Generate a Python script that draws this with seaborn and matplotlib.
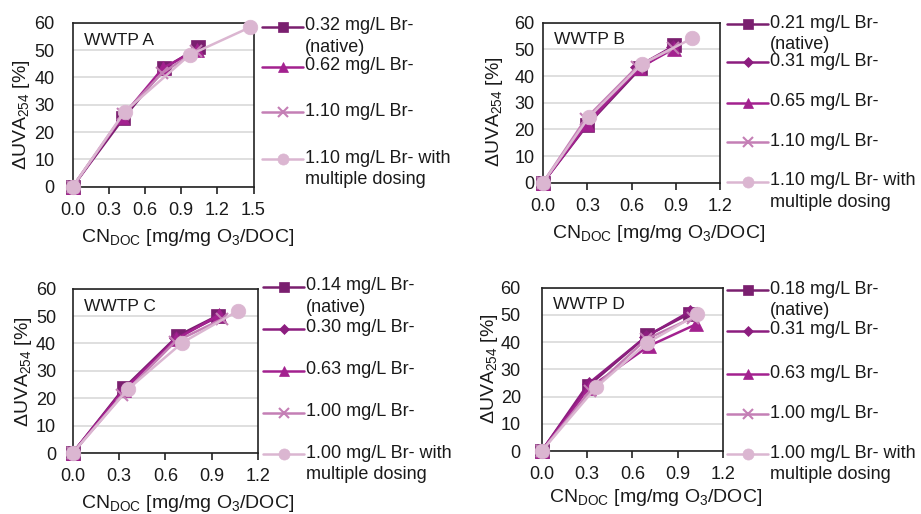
import numpy as np
import pandas as pd
import seaborn as sns
import matplotlib.pyplot as plt
from matplotlib.lines import Line2D

sns.set_theme(style="white")
plt.rcParams['font.family'] = ['Liberation Sans', 'DejaVu Sans']
plt.rcParams['mathtext.fontset'] = 'custom'
plt.rcParams['mathtext.rm'] = 'Liberation Sans'
plt.rcParams['mathtext.it'] = 'Liberation Sans:italic'
for k in ['text.color', 'axes.labelcolor', 'xtick.color', 'ytick.color']:
    plt.rcParams[k] = '#1a1a1a'

# ---- data ----
# WWTP A
a_labels = ["0.32 mg/L Br-\n(native)", "0.62 mg/L Br-", "1.10 mg/L Br-",
            "1.10 mg/L Br- with\nmultiple dosing"]
a_series = ["square", "triangle", "x", "circle"]
a_x = [[0, 0.42, 0.76, 1.04],
       [0, 0.41, 0.75, 1.03],
       [0, 0.42, 0.74, 1.02],
       [0, 0.43, 0.97, 1.47]]
a_y = [[0, 25.0, 43.3, 51.0],
       [0, 25.5, 43.5, 50.0],
       [0, 26.5, 41.5, 49.5],
       [0, 27.4, 48.2, 58.3]]

# WWTP B
b_labels = ["0.21 mg/L Br-\n(native)", "0.31 mg/L Br-", "0.65 mg/L Br-",
            "1.10 mg/L Br-", "1.10 mg/L Br- with\nmultiple dosing"]
b_series = ["square", "diamond", "triangle", "x", "circle"]
b_x = [[0, 0.30, 0.66, 0.89],
       [0, 0.30, 0.64, 0.88],
       [0, 0.30, 0.65, 0.89],
       [0, 0.29, 0.64, 0.88],
       [0, 0.31, 0.67, 1.01]]
b_y = [[0, 21.6, 42.9, 51.5],
       [0, 22.5, 43.5, 51.0],
       [0, 22.0, 43.0, 50.3],
       [0, 24.0, 43.5, 50.5],
       [0, 24.5, 44.5, 54.1]]

# WWTP C
c_labels = ["0.14 mg/L Br-\n(native)", "0.30 mg/L Br-", "0.63 mg/L Br-",
            "1.00 mg/L Br-", "1.00 mg/L Br- with\nmultiple dosing"]
c_series = ["square", "diamond", "triangle", "x", "circle"]
c_x = [[0, 0.33, 0.68, 0.94],
       [0, 0.33, 0.67, 0.95],
       [0, 0.33, 0.67, 0.95],
       [0, 0.32, 0.66, 0.97],
       [0, 0.36, 0.71, 1.07]]
c_y = [[0, 23.6, 42.8, 50.2],
       [0, 23.0, 42.0, 50.0],
       [0, 23.0, 41.5, 50.5],
       [0, 21.0, 40.5, 49.0],
       [0, 23.4, 40.3, 51.9]]

# WWTP D
d_labels = ["0.18 mg/L Br-\n(native)", "0.31 mg/L Br-", "0.63 mg/L Br-",
            "1.00 mg/L Br-", "1.00 mg/L Br- with\nmultiple dosing"]
d_series = ["square", "diamond", "triangle", "x", "circle"]
d_x = [[0, 0.31, 0.70, 0.98],
       [0, 0.31, 0.69, 0.98],
       [0, 0.31, 0.71, 1.02],
       [0, 0.32, 0.69, 1.00],
       [0, 0.36, 0.70, 1.03]]
d_y = [[0, 24.0, 42.5, 50.5],
       [0, 24.8, 42.0, 51.2],
       [0, 23.0, 38.6, 46.5],
       [0, 22.0, 41.0, 49.0],
       [0, 23.4, 39.8, 50.2]]

# ---- styles ----
style = {
    "square":   dict(color="#7a1f6f", marker="s", ms=9.5, lms=7),
    "diamond":  dict(color="#8c1d7f", marker="D", ms=7, lms=5.5),
    "triangle": dict(color="#a3218f", marker="^", ms=9.5, lms=7.5),
    "x":        dict(color="#c47fb5", marker="x", ms=8, lms=7),
    "circle":   dict(color="#dbb6d1", marker="o", ms=10.5, lms=8),
}

W, H = 921, 514
fig = plt.figure(figsize=(W / 100, H / 100), dpi=100)


def fx(x):
    return x / W


def fy(y):
    return 1 - y / H


def panel(box, xs, ys, series, labels, name, xmax, leg_x, leg_y,
          ytick_pad, ylab_pos, xlab_pos):
    left, top, right, bottom = box
    ax = fig.add_axes([fx(left), fy(bottom), (right - left) / W, (bottom - top) / H])
    for xv, yv, s in zip(xs, ys, series):
        st = style[s]
        df = pd.DataFrame({"x": xv, "y": yv})
        sns.lineplot(data=df, x="x", y="y", ax=ax, sort=False, color=st["color"],
                     marker=st["marker"], markersize=st["ms"],
                     markeredgecolor=st["color"], markeredgewidth=1.5 if s == "x" else 0.5,
                     linewidth=1.8, clip_on=False, zorder=3)
    ax.set_xlim(0, xmax)
    ax.set_ylim(0, 60)
    ax.set_xticks(np.round(np.arange(0, xmax + 0.01, 0.3), 1))
    ax.set_xticklabels([f"{t:.1f}" for t in np.arange(0, xmax + 0.01, 0.3)])
    ax.set_yticks(range(0, 61, 10))
    ax.yaxis.grid(True, color="#d9d9d9", lw=1.2)
    ax.set_axisbelow(True)
    for sp in ax.spines.values():
        sp.set_color("#222222")
        sp.set_linewidth(1.2)
        sp.set_visible(True)
    ax.tick_params(axis="x", direction="out", length=5, width=1.2, color="#222222",
                   labelsize=13, pad=6, bottom=True)
    ax.tick_params(axis="y", length=0, labelsize=13, pad=ytick_pad)
    ax.set_xlabel("CN$_{\\mathrm{DOC}}$ [mg/mg O$_3$/DOC]", fontsize=14)
    ax.set_ylabel("ΔUVA$_{254}$ [%]", fontsize=14)
    ax.xaxis.set_label_coords((xlab_pos[0] - left) / (right - left),
                              (bottom - xlab_pos[1]) / (bottom - top))
    ax.yaxis.set_label_coords((ylab_pos[0] - left) / (right - left),
                              (bottom - ylab_pos[1]) / (bottom - top))
    ax.xaxis.label.set_va("center")
    ax.yaxis.label.set_va("center")
    ax.text(0.06, 0.94, name, transform=ax.transAxes, fontsize=12.5,
            va="top", ha="left")

    # legend drawn to the right of the plot
    for s, lab, yy in zip(series, labels, leg_y):
        st = style[s]
        fig.add_artist(Line2D([fx(leg_x), fx(leg_x + 41)], [fy(yy), fy(yy)],
                              transform=fig.transFigure, color=st["color"], lw=1.8))
        fig.add_artist(Line2D([fx(leg_x + 20.5)], [fy(yy)], transform=fig.transFigure,
                              color=st["color"], marker=st["marker"], ms=st["lms"],
                              mec=st["color"], mew=1.5 if s == "x" else 0.5, lw=0))
        fig.text(fx(leg_x + 43), fy(yy - 9.5), lab, fontsize=13, va="top",
                 ha="left", linespacing=1.35)
    return ax


panel((72.7, 22.7, 253.5, 186.7), a_x, a_y, a_series, a_labels, "WWTP A", 1.5,
      262, [27, 67, 112, 159], 13, (22, 115), (188, 237))
panel((543, 22.7, 720, 182.7), b_x, b_y, b_series, b_labels, "WWTP B", 1.2,
      727, [24, 62, 103, 142, 182], 6, (494, 112), (659, 233))
panel((72.7, 288.7, 258, 453), c_x, c_y, c_series, c_labels, "WWTP C", 1.2,
      263, [287, 329, 371, 413, 454], 12, (24, 372), (188, 503))
panel((541.7, 287.7, 723, 451), d_x, d_y, d_series, d_labels, "WWTP D", 1.2,
      727, [290, 331, 374, 414, 454], 15, (489, 369), (656, 498))

fig.savefig("out.png", dpi=100)
